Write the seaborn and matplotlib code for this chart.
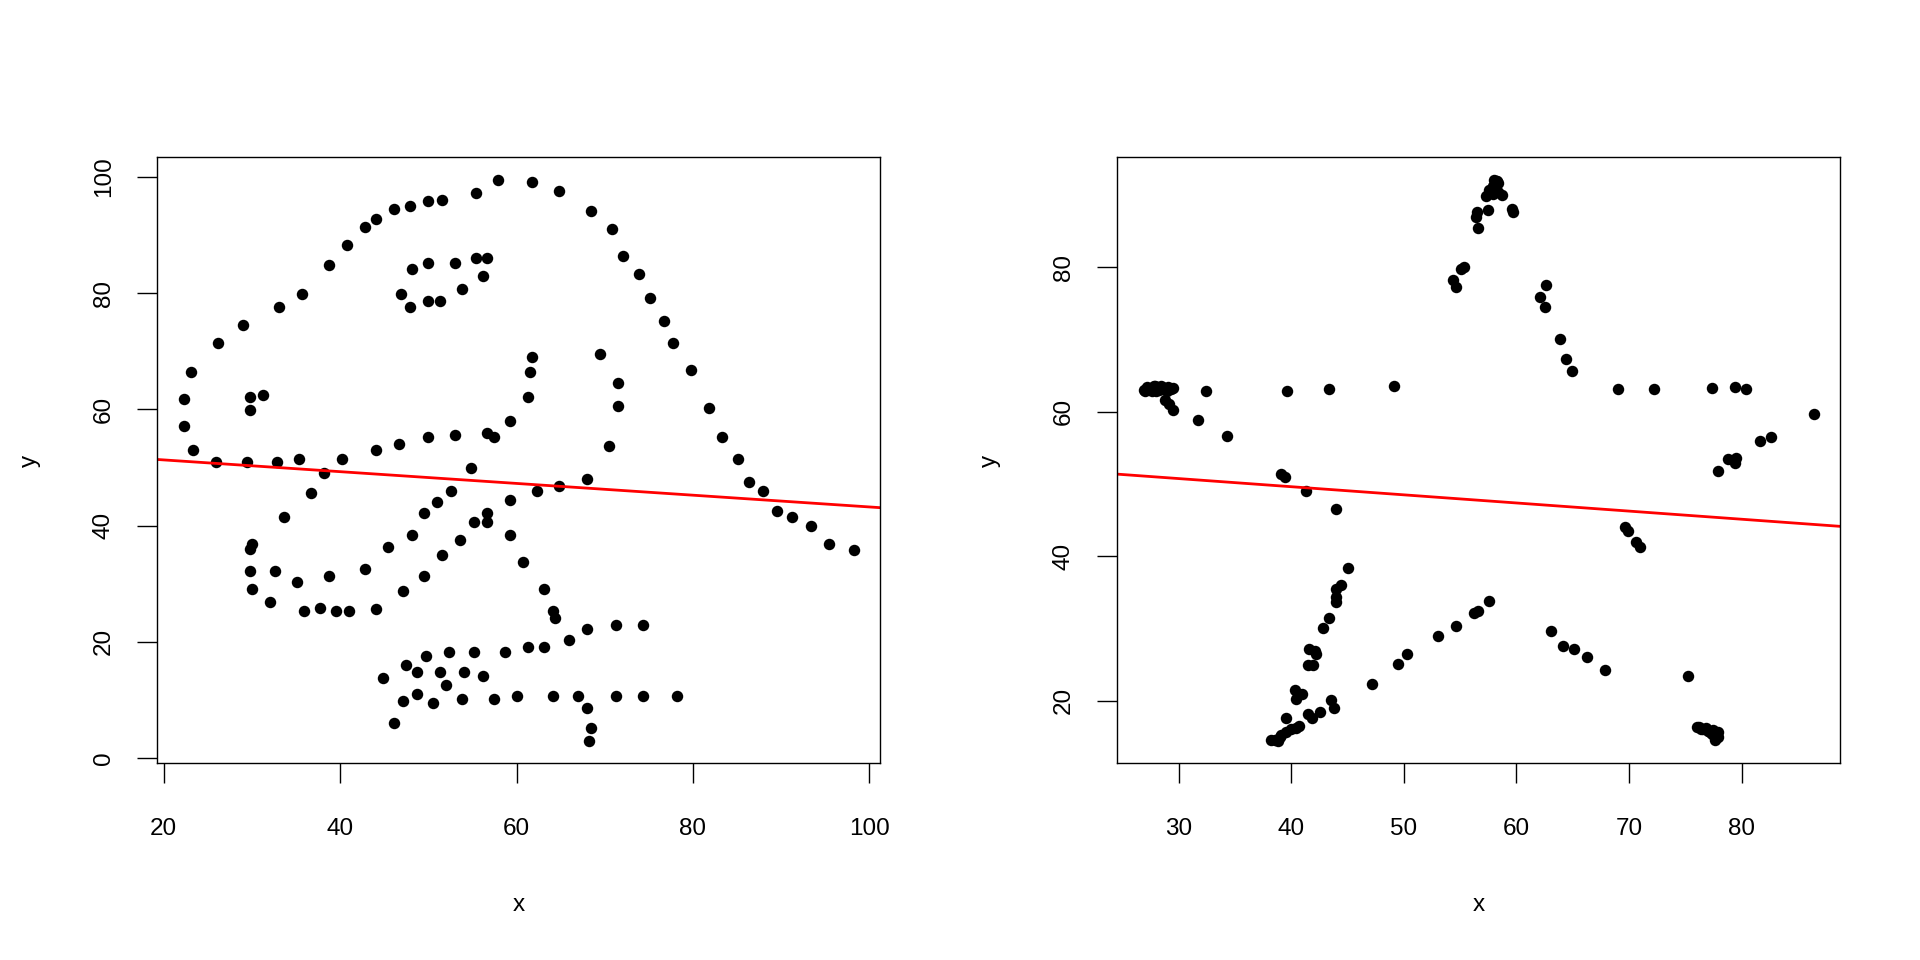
import numpy as np
import pandas as pd
import matplotlib
matplotlib.use("Agg")
import matplotlib.pyplot as plt
import seaborn as sns

# dino
dino_x = [55.3846, 51.5385, 46.1538, 42.8205, 40.7692, 38.7179, 35.641, 33.0769, 28.9744, 26.1538,
          23.0769, 22.3077, 22.3077, 23.3333, 25.8974, 29.4872, 32.8205, 35.3846, 40.2564, 44.1026,
          46.6667, 50.0, 53.0769, 56.6667, 59.2308, 61.2821, 61.5385, 61.7949, 57.4359, 54.8718,
          52.5641, 48.2051, 49.4872, 51.0256, 45.3846, 42.8205, 38.7179, 35.1282, 32.5641, 30.0,
          33.5897, 36.6667, 38.2051, 29.7436, 29.7436, 30.0, 32.0513, 35.8974, 41.0256, 44.1026,
          47.1795, 49.4872, 51.5385, 53.5897, 55.1282, 56.6667, 59.2308, 62.3077, 64.8718, 67.9487,
          70.5128, 71.5385, 71.5385, 69.4872, 46.9231, 48.2051, 50.0, 53.0769, 55.3846, 56.6667,
          56.1538, 53.8462, 51.2821, 50.0, 47.9487, 29.7436, 29.7436, 31.2821, 57.9487, 61.7949,
          64.8718, 68.4615, 70.7692, 72.0513, 73.8462, 75.1282, 76.6667, 77.6923, 79.7436, 81.7949,
          83.3333, 85.1282, 86.4103, 87.9487, 89.4872, 93.3333, 95.3846, 98.2051, 56.6667, 59.2308,
          60.7692, 63.0769, 64.1026, 64.359, 74.359, 71.2821, 67.9487, 65.8974, 63.0769, 61.2821,
          58.7179, 55.1282, 52.3077, 49.7436, 47.4359, 44.8718, 48.7179, 51.2821, 54.1026, 56.1538,
          52.0513, 48.7179, 47.1795, 46.1538, 50.5128, 53.8462, 57.4359, 60.0, 64.1026, 66.9231,
          71.2821, 74.359, 78.2051, 67.9487, 68.4615, 68.2051, 37.6923, 39.4872, 91.2821, 50.0,
          47.9487, 44.1026]
dino_y = [97.1795, 96.0256, 94.4872, 91.4103, 88.3333, 84.8718, 79.8718, 77.5641, 74.4872, 71.4103,
          66.4103, 61.7949, 57.1795, 52.9487, 51.0256, 51.0256, 51.0256, 51.4103, 51.4103, 52.9487,
          54.1026, 55.2564, 55.641, 56.0256, 57.9487, 62.1795, 66.4103, 69.1026, 55.2564, 49.8718,
          46.0256, 38.3333, 42.1795, 44.1026, 36.4103, 32.5641, 31.4103, 30.2564, 32.1795, 36.7949,
          41.4103, 45.641, 49.1026, 36.0256, 32.1795, 29.1026, 26.7949, 25.2564, 25.2564, 25.641,
          28.718, 31.4103, 34.8718, 37.5641, 40.641, 42.1795, 44.4872, 46.0256, 46.7949, 47.9487,
          53.718, 60.641, 64.4872, 69.4872, 79.8718, 84.1026, 85.2564, 85.2564, 86.0256, 86.0256,
          82.9487, 80.641, 78.718, 78.718, 77.5641, 59.8718, 62.1795, 62.5641, 99.4872, 99.1026,
          97.5641, 94.1026, 91.0256, 86.4103, 83.3333, 79.1026, 75.2564, 71.4103, 66.7949, 60.2564,
          55.2564, 51.4103, 47.5641, 46.0256, 42.5641, 39.8718, 36.7949, 35.9, 40.641, 38.3333,
          33.718, 29.1026, 25.2564, 24.1026, 22.9487, 22.9487, 22.1795, 20.2564, 19.1026, 19.1026,
          18.3333, 18.3333, 18.3333, 17.5641, 16.0256, 13.718, 14.8718, 14.8718, 14.8718, 14.1026,
          12.5641, 11.0256, 9.8718, 6.0256, 9.4872, 10.2564, 10.2564, 10.641, 10.641, 10.641,
          10.641, 10.641, 10.641, 8.718, 5.2564, 2.9487, 25.7692, 25.3846, 41.5385, 95.7692,
          95.0, 92.6923]

# star (dense clusters hold several overlapping points)
star_x = [26.9, 27.2, 27.5, 27.8, 28.1, 28.4, 28.7, 29.0, 29.3, 29.5, 27.0, 28.0,
          27.4, 27.6, 27.9, 28.2, 28.5, 28.9,
          28.8, 29.1, 29.5, 32.4, 31.7, 34.3, 39.6, 43.3, 49.1,
          69.0, 72.2, 77.4, 79.4, 80.4,
          86.4, 81.6, 82.6, 78.8, 79.5, 79.4, 77.9,
          58.2, 58.0, 58.4, 57.6, 57.9, 57.3, 57.9, 58.7, 58.4, 57.5, 56.5, 56.4, 56.6, 59.6, 59.7,
          58.1, 58.3, 57.8,
          55.3, 55.1, 54.4, 54.6,
          62.6, 62.1, 62.5, 63.9, 64.4, 64.9,
          39.1, 39.4, 41.3, 44.0,
          69.6, 69.9, 70.6, 71.0,
          45.0, 44.4, 44.0, 44.0, 44.0, 43.3, 42.8, 41.6, 42.2, 42.1, 41.5, 41.9, 40.35, 40.9, 40.4,
          43.55, 43.75, 42.5, 41.5, 41.8, 39.55, 40.7, 40.4, 40.0, 39.55, 39.1, 38.5, 38.2, 38.8, 39.0,
          47.2, 49.5, 50.3, 53.0, 54.6, 56.2, 56.6, 57.6,
          63.1, 64.1, 65.1, 66.3, 67.9, 75.2,
          76.0, 76.8, 77.5, 77.8, 77.6, 77.95, 76.4, 77.2, 77.9,
          76.2, 76.6, 77.0, 77.4, 77.7]
star_y = [63.0, 63.4, 63.1, 63.5, 63.3, 63.6, 63.2, 63.4, 63.1, 63.3, 62.8, 62.9,
          63.2, 62.9, 63.5, 63.0, 63.4, 62.9,
          61.6, 61.0, 60.3, 62.8, 58.8, 56.6, 62.9, 63.1, 63.6,
          63.2, 63.1, 63.3, 63.4, 63.2,
          59.7, 55.9, 56.5, 53.4, 53.6, 52.9, 51.8,
          91.9, 92.1, 91.6, 90.7, 91.2, 89.8, 90.2, 90.0, 90.4, 87.9, 87.6, 86.9, 85.4, 88.1, 87.6,
          91.4, 92.0, 90.9,
          80.1, 79.7, 78.3, 77.3,
          77.6, 75.9, 74.5, 70.1, 67.3, 65.7,
          51.4, 51.0, 49.0, 46.5,
          44.1, 43.5, 41.9, 41.2,
          38.3, 36.0, 35.5, 34.4, 33.6, 31.5, 30.0, 27.1, 26.4, 26.8, 24.9, 24.9, 21.5, 20.9, 20.2,
          20.1, 19.0, 18.4, 18.1, 17.6, 17.65, 16.5, 16.2, 16.0, 15.7, 15.25, 14.6, 14.6, 14.4, 14.9,
          22.35, 25.0, 26.4, 29.0, 30.3, 32.1, 32.4, 33.8,
          29.7, 27.6, 27.2, 26.1, 24.2, 23.4,
          16.4, 16.2, 15.95, 15.3, 14.6, 14.9, 16.0, 15.6, 15.7,
          16.3, 16.1, 15.8, 15.4, 15.0]

dino_xticks = [20, 40, 60, 80, 100]
dino_yticks = [0, 20, 40, 60, 80, 100]
star_xticks = [30, 40, 50, 60, 70, 80]
star_yticks = [20, 40, 60, 80]

sns.set_theme(style="white")
plt.rcParams['font.family'] = ['Liberation Sans', 'DejaVu Sans']
plt.rcParams['text.color'] = 'black'
plt.rcParams['axes.labelcolor'] = 'black'
plt.rcParams['xtick.color'] = 'black'
plt.rcParams['ytick.color'] = 'black'

fig = plt.figure(figsize=(19.2, 9.6), dpi=100)
ax1 = fig.add_axes([0.0819, 0.2047, 0.3766, 0.6313])
ax2 = fig.add_axes([0.5819, 0.2047, 0.3766, 0.6313])


def panel(ax, xs, ys, xticks, yticks):
    df = pd.DataFrame({'x': xs, 'y': ys})
    sns.scatterplot(data=df, x='x', y='y', ax=ax, color='black', s=68, linewidth=0)
    # R-style 4% padding, frozen before drawing the fitted line
    ax.margins(0.04)
    ax.autoscale_view()
    xl, yl = ax.get_xlim(), ax.get_ylim()
    slope, intercept = np.polyfit(df['x'], df['y'], 1)
    ax.axline((0, intercept), slope=slope, color='red', linewidth=2.0)
    ax.set_xlim(xl)
    ax.set_ylim(yl)
    ax.set_xticks(xticks)
    ax.set_yticks(yticks)
    ax.tick_params(axis='both', direction='out', length=14.5, width=1.0, color='black',
                   labelsize=17.5, labelcolor='black', bottom=True, left=True)
    ax.tick_params(axis='x', pad=25)
    ax.tick_params(axis='y', pad=16)
    for lab in ax.get_yticklabels():
        lab.set_rotation(90)
        lab.set_va('center')
    for sp in ax.spines.values():
        sp.set_color('black')
        sp.set_linewidth(1.0)
    ax.set_xlabel('x', fontsize=17.5)
    ax.set_ylabel('y', fontsize=17.5)
    ax.xaxis.set_label_coords(0.5, -0.234)
    ax.xaxis.label.set_va('center')
    ax.yaxis.set_label_coords(-0.176, 0.5)
    ax.yaxis.label.set_va('center')


panel(ax1, dino_x, dino_y, dino_xticks, dino_yticks)
panel(ax2, star_x, star_y, star_xticks, star_yticks)

fig.savefig('out.png', dpi=100, facecolor='white')
